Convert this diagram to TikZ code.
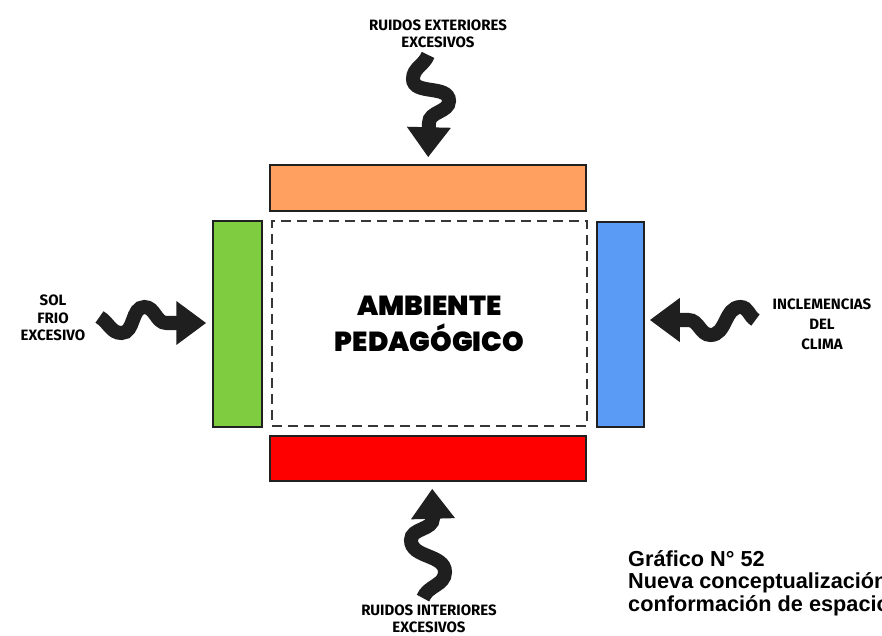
\documentclass[tikz,border=0pt]{standalone}
\usepackage{fontspec}
\setmainfont{Fira Sans}
\newfontfamily\heavyfont{Poppins Black}
\newfontfamily\captionfont{Liberation Sans}
\usepackage{xcolor}
\usetikzlibrary{arrows.meta, positioning}

\definecolor{wallorange}{RGB}{255,160,96}
\definecolor{wallgreen}{RGB}{128,204,64}
\definecolor{wallblue}{RGB}{90,155,245}
\definecolor{wallred}{RGB}{255,0,0}
\definecolor{edgegray}{RGB}{32,32,32}

\begin{document}
\begin{tikzpicture}[x=1pt, y=1pt,
    wall/.style={draw=edgegray, line width=1.5pt, inner sep=0pt},
    cue/.style={font=\bfseries\fontsize{15}{16.5}\selectfont, align=center, inner sep=0pt},
    squig/.style={line width=14pt, black!88, -{Triangle[length=30pt,width=42pt]}}]
  \useasboundingbox[fill=white] (0,0) rectangle (882,635);

  % the room and its four walls
  \node[draw=edgegray!90, line width=1.9pt, dash pattern=on 10pt off 6pt,
        minimum width=315pt, minimum height=205pt, align=center,
        font=\heavyfont\fontsize{27.5}{36}\selectfont] (room) at (429.5,311.5) {AMBIENTE\\PEDAGÓGICO};
  \node[wall, fill=wallorange, minimum width=316pt, minimum height=46pt] (wallN) at (428,447) {};
  \node[wall, fill=wallred, minimum width=316pt, minimum height=45pt] (wallS) at (428,176.5) {};
  \node[wall, fill=wallgreen, minimum width=49pt, minimum height=206pt] (wallW) at (237.5,311) {};
  \node[wall, fill=wallblue, minimum width=47pt, minimum height=205pt] (wallE) at (620.5,310.5) {};

  % what comes in from outside
  \node[cue] (ext) at (438,601) {RUIDOS EXTERIORES\\EXCESIVOS};
  \node[cue] (intl) at (429,16) {RUIDOS INTERIORES\\EXCESIVOS};
  \node[cue, font=\bfseries\fontsize{15}{17.5}\selectfont] (sol) at (53,317) {SOL\\FRIO\\EXCESIVO};
  \node[cue, font=\bfseries\fontsize{15}{20}\selectfont] (incl) at (822,311) {INCLEMENCIAS\\DEL\\CLIMA};
  \coordinate (inclTip) at ([yshift=4.5pt]wallE.east);

  % wavy arrows
  \draw[squig, shorten >=7pt] ([yshift=-7pt]ext.south -| wallN.north)
    to[out=-110,in=90] ++(-15,-24) to[out=-90,in=90] ++(36,-22)
    to[out=-90,in=90] ++(-20,-22) -- (wallN.north);
  \draw[squig, shorten >=7pt] ([xshift=-6pt,yshift=7pt]intl.north)
    to[out=70,in=-90] ++(22,26) to[out=90,in=-90] ++(-34,32)
    to[out=90,in=-90] ++(22,22) -- ([xshift=4pt]wallS.south);
  \draw[squig, shorten >=6pt] ([xshift=14pt]sol.east |- 0,318)
    to[out=-30,in=180] ++(22,-16) to[out=0,in=180] ++(23,26)
    to[out=0,in=180] ++(22,-16) -- (wallW.west |- 0,312);
  \draw[squig, shorten >=5pt] ([xshift=-17pt]incl.west |- inclTip)
    to[out=150,in=0] ++(-15,13) to[out=180,in=0] ++(-30,-28)
    to[out=180,in=0] ++(-22,15) -- (inclTip);

  \node[anchor=north west, align=left, inner sep=0pt,
        font=\captionfont\bfseries\fontsize{21.7}{22.5}\selectfont] (caption) at (628,85)
        {Gráfico N° 52\\Nueva conceptualización\\conformación de espacio};
\end{tikzpicture}
\end{document}
